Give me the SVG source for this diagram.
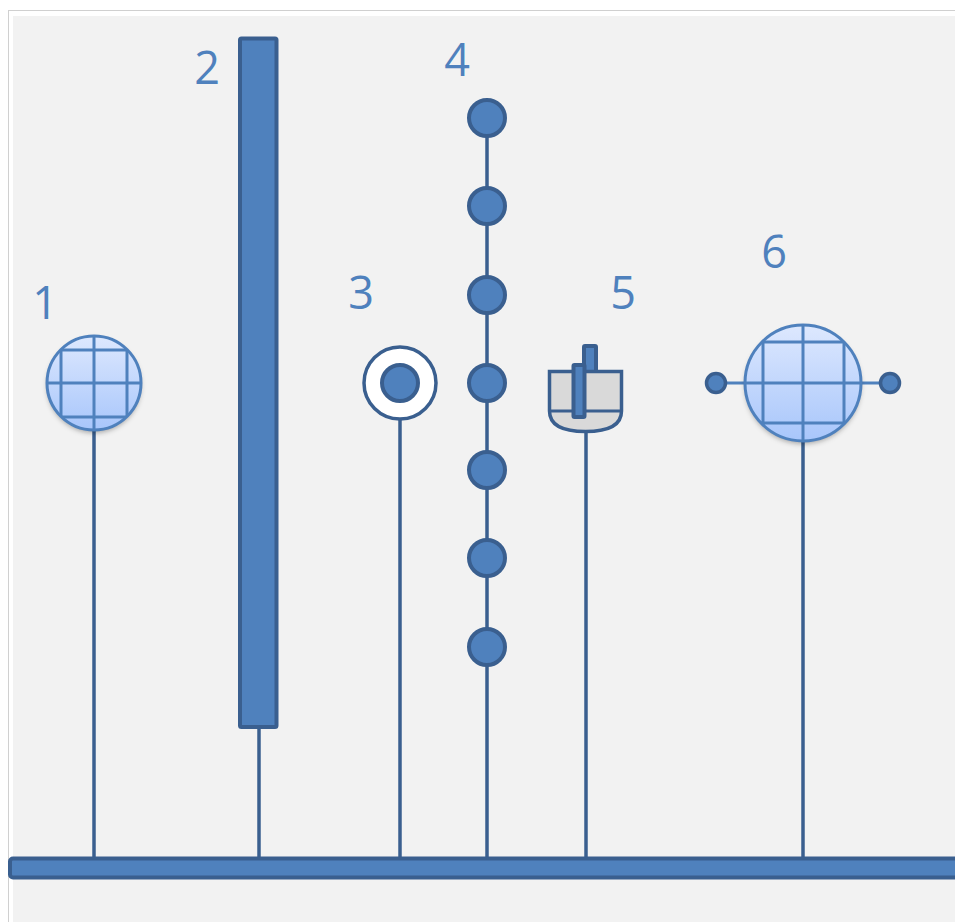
<svg xmlns="http://www.w3.org/2000/svg" width="955" height="922" viewBox="0 0 955 922">
  <style>
    .label { font-family: "Open Sans", "Liberation Sans", sans-serif; font-size: 45px; fill: #4f81bd; text-anchor: middle; }
    .stem { stroke: #3a5f8f; stroke-width: 3.5; fill: none; }
    .solid { fill: #4f81bd; stroke: #3a5f8f; stroke-width: 4; }
    .grid { stroke: #4f81bd; stroke-width: 3; fill: none; }
  </style>
  <defs>
    <linearGradient id="globeFill" x1="0" y1="0" x2="0" y2="1">
      <stop offset="0" stop-color="#dde8fe"/>
      <stop offset="1" stop-color="#a8c6fb"/>
    </linearGradient>
    <filter id="shadow" x="-20%" y="-20%" width="140%" height="150%">
      <feDropShadow dx="0" dy="3" stdDeviation="2.5" flood-color="#000" flood-opacity="0.3"/>
    </filter>
    <clipPath id="clip1"><circle cx="94" cy="383" r="47"/></clipPath>
    <clipPath id="clip6"><circle cx="803" cy="383" r="58"/></clipPath>
  </defs>

  <!-- page frame -->
  <rect x="0" y="0" width="955" height="922" fill="#ffffff"/>
  <line x1="8" y1="10.5" x2="955" y2="10.5" stroke="#d0d0d0" stroke-width="1"/>
  <line x1="8.5" y1="10" x2="8.5" y2="922" stroke="#d0d0d0" stroke-width="1"/>
  <rect x="13" y="16" width="942" height="906" fill="#f2f2f2"/>

  <!-- connectors: stems down to the base bar -->
  <g id="connectors">
    <line class="stem" x1="94" y1="428" x2="94" y2="858"/>
    <line class="stem" x1="259" y1="727" x2="259" y2="858"/>
    <line class="stem" x1="400" y1="418" x2="400" y2="858"/>
    <line class="stem" x1="487" y1="118" x2="487" y2="858"/>
    <line class="stem" x1="586" y1="431" x2="586" y2="858"/>
    <line class="stem" x1="803" y1="440" x2="803" y2="858"/>
  </g>

  <!-- base bar -->
  <g id="base">
    <rect class="solid" x="10" y="858.5" width="960" height="19" rx="3"/>
  </g>

  <!-- 1: small globe -->
  <g id="node1">
    <circle cx="94" cy="383" r="47" fill="url(#globeFill)" filter="url(#shadow)"/>
    <g clip-path="url(#clip1)">
      <line class="grid" x1="61" y1="330" x2="61" y2="436"/>
      <line class="grid" x1="94" y1="330" x2="94" y2="436"/>
      <line class="grid" x1="127" y1="330" x2="127" y2="436"/>
      <line class="grid" x1="40" y1="350" x2="148" y2="350"/>
      <line class="grid" x1="40" y1="383" x2="148" y2="383"/>
      <line class="grid" x1="40" y1="417" x2="148" y2="417"/>
    </g>
    <circle cx="94" cy="383" r="47" fill="none" stroke="#4f81bd" stroke-width="3"/>
    <text class="label" x="45" y="319">1</text>
  </g>

  <!-- 2: tall bar -->
  <g id="node2">
    <rect class="solid" x="240" y="38.5" width="36.5" height="688.5" rx="1.5"/>
    <text class="label" x="207" y="84">2</text>
  </g>

  <!-- 3: ring with dot -->
  <g id="node3">
    <circle cx="400" cy="383" r="36" fill="#ffffff" stroke="#3a5f8f" stroke-width="3.5"/>
    <circle class="solid" cx="400" cy="383" r="18"/>
    <text class="label" x="361" y="309">3</text>
  </g>

  <!-- 4: chain of dots -->
  <g id="node4">
    <circle class="solid" cx="487" cy="118" r="18"/>
    <circle class="solid" cx="487" cy="206" r="18"/>
    <circle class="solid" cx="487" cy="295" r="18"/>
    <circle class="solid" cx="487" cy="383" r="18"/>
    <circle class="solid" cx="487" cy="470" r="18"/>
    <circle class="solid" cx="487" cy="558" r="18"/>
    <circle class="solid" cx="487" cy="647" r="18"/>
    <text class="label" x="457" y="76">4</text>
  </g>

  <!-- 5: cup with two pins -->
  <g id="node5">
    <rect class="solid" x="584" y="346" width="12" height="36" rx="1"/>
    <path d="M549.5 371.5 H621.5 V411 Q621.5 431.5 585.5 431.5 Q549.5 431.5 549.5 411 Z" fill="#d9d9d9" stroke="#3a5f8f" stroke-width="3.5"/>
    <line x1="549.5" y1="411" x2="621.5" y2="411" stroke="#3a5f8f" stroke-width="3"/>
    <rect class="solid" x="573.5" y="365" width="11" height="52" rx="1"/>
    <text class="label" x="623" y="309">5</text>
  </g>

  <!-- 6: large globe with side pins -->
  <g id="node6">
    <line x1="716" y1="383" x2="890" y2="383" stroke="#4f81bd" stroke-width="3"/>
    <circle cx="716" cy="383" r="9.5" fill="#4f81bd" stroke="#3a5f8f" stroke-width="3.5"/>
    <circle cx="890" cy="383" r="9.5" fill="#4f81bd" stroke="#3a5f8f" stroke-width="3.5"/>
    <circle cx="803" cy="383" r="58" fill="url(#globeFill)" filter="url(#shadow)"/>
    <g clip-path="url(#clip6)">
      <line class="grid" x1="763" y1="320" x2="763" y2="446"/>
      <line class="grid" x1="803" y1="320" x2="803" y2="446"/>
      <line class="grid" x1="844" y1="320" x2="844" y2="446"/>
      <line class="grid" x1="740" y1="342" x2="866" y2="342"/>
      <line class="grid" x1="740" y1="383" x2="866" y2="383"/>
      <line class="grid" x1="740" y1="423" x2="866" y2="423"/>
    </g>
    <circle cx="803" cy="383" r="58" fill="none" stroke="#4f81bd" stroke-width="3"/>
    <text class="label" x="774" y="268">6</text>
  </g>
</svg>
